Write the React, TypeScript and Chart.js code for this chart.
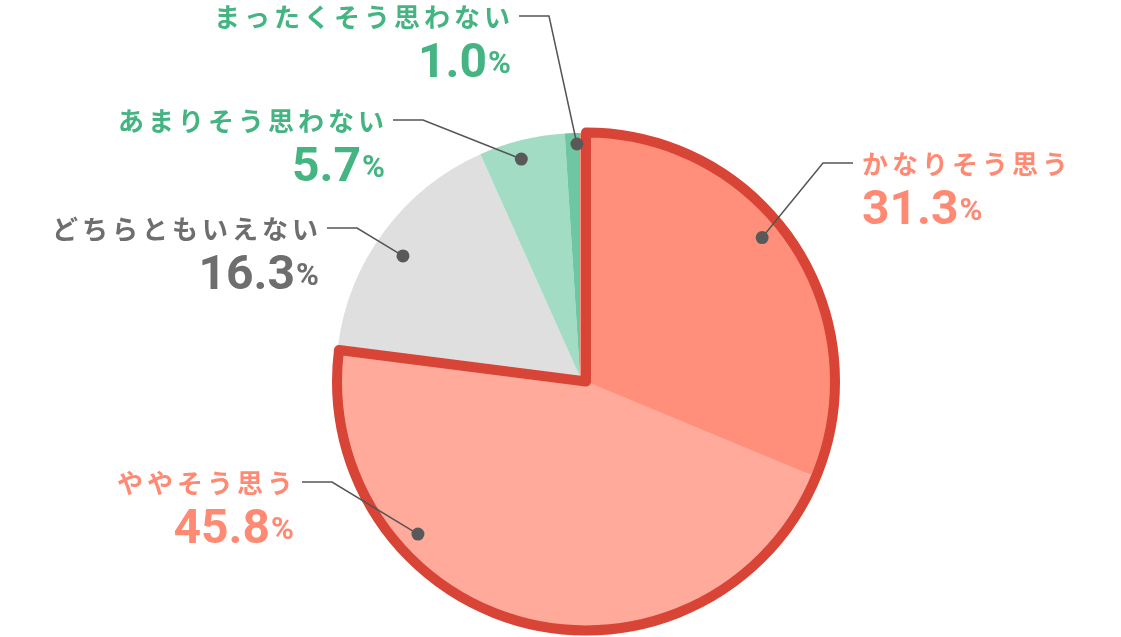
import React, { useEffect, useRef } from "react";
import { Chart, registerables } from "chart.js";

Chart.register(...registerables);

// ---- data ----
const categories = ["かなりそう思う", "ややそう思う", "どちらともいえない", "あまりそう思わない", "まったくそう思わない"];
const values = [31.3, 45.8, 16.3, 5.7, 1.0];
const valueLabels = ["31.3", "45.8", "16.3", "5.7", "1.0"];

// ---- styles ----
const sliceColors = ["#ff8f7b", "#ffaa9b", "#dfdfdf", "#a3dcc5", "#6ec7a2"];
const textColors = ["#ff8a74", "#ff8a74", "#6e6e6e", "#43b482", "#43b482"];
const outlineColor = "#d84436";
const outlinedSlices = [0, 1];

// ---- label layout (annotation placement) ----
// dot: [fraction along slice angle, fraction of radius]
const dotPlacement: [number, number][] = [
  [0.467, 0.94],
  [0.688, 0.925],
  [0.462, 0.879],
  [0.44, 0.925],
  [0.79, 0.955],
];
// elbow point of leader line and side of label
const elbowPoints: [number, number][] = [
  [823, 163],
  [332, 482],
  [357, 228],
  [423, 120],
  [549, 16],
];
const labelSide: ("left" | "right")[] = ["right", "left", "left", "left", "left"];

const labelPlugin = {
  id: "outlineAndLabels",
  afterDatasetsDraw(chart: any) {
    const ctx: CanvasRenderingContext2D = chart.ctx;
    const arcs = chart.getDatasetMeta(0).data as any[];
    const a0 = arcs[outlinedSlices[0]];
    const a1 = arcs[outlinedSlices[outlinedSlices.length - 1]];
    const ox = a0.x + 6;
    const oy = a0.y + 4.5;
    const r2 = a0.outerRadius + 5;
    ctx.save();
    outlinedSlices.forEach((i) => {
      const a = arcs[i];
      ctx.beginPath();
      ctx.moveTo(ox, oy);
      ctx.arc(ox, oy, r2, a.startAngle, a.endAngle);
      ctx.closePath();
      ctx.fillStyle = sliceColors[i];
      ctx.fill();
    });
    ctx.beginPath();
    ctx.moveTo(ox, oy);
    ctx.arc(ox, oy, r2, a0.startAngle, a1.endAngle);
    ctx.closePath();
    ctx.lineWidth = 10;
    ctx.lineJoin = "round";
    ctx.strokeStyle = outlineColor;
    ctx.stroke();
    ctx.restore();
  },
  afterDraw(chart: any) {
    const ctx: CanvasRenderingContext2D = chart.ctx;
    const arcs = chart.getDatasetMeta(0).data as any[];
    arcs.forEach((a: any, i: number) => {
      const [fa, fr] = dotPlacement[i];
      const ang = a.startAngle + (a.endAngle - a.startAngle) * fa;
      const r = a.outerRadius * fr;
      const dx = a.x + Math.cos(ang) * r;
      const dy = a.y + Math.sin(ang) * r;
      const [ex, ey] = elbowPoints[i];
      const side = labelSide[i];
      const endX = side === "right" ? ex + 30 : ex - 30;
      ctx.save();
      ctx.strokeStyle = "#555555";
      ctx.lineWidth = 1.5;
      ctx.beginPath();
      ctx.moveTo(dx, dy);
      ctx.lineTo(ex, ey);
      ctx.lineTo(endX, ey);
      ctx.stroke();
      ctx.fillStyle = "#595959";
      ctx.beginPath();
      ctx.arc(dx, dy, 6.5, 0, Math.PI * 2);
      ctx.fill();

      // category text
      const tx = side === "right" ? endX + 9 : endX - 9;
      ctx.fillStyle = textColors[i];
      ctx.font = 'bold 26px "Noto Sans CJK JP"';
      (ctx as any).letterSpacing = "4px";
      ctx.textBaseline = "middle";
      ctx.textAlign = "left";
      const w = ctx.measureText(categories[i]).width;
      const startX = side === "right" ? tx : tx - (w - 4);
      ctx.fillText(categories[i], startX, ey + 1);

      // number
      (ctx as any).letterSpacing = "0px";
      ctx.textBaseline = "alphabetic";
      ctx.font = 'bold 48px Roboto';
      const numW = ctx.measureText(valueLabels[i]).width;
      ctx.font = 'bold 31px Roboto';
      const pctW = ctx.measureText("%").width;
      const gap = 1;
      const total = numW + gap + pctW;
      const nx = side === "right" ? tx : tx + 1 - total;
      const base = ey + 61;
      ctx.font = 'bold 48px Roboto';
      ctx.fillText(valueLabels[i], nx, base);
      ctx.font = 'bold 31px Roboto';
      ctx.fillText("%", nx + numW + gap, base - 4);
      ctx.restore();
    });
  },
};

export default function App() {
  const ref = useRef<HTMLCanvasElement>(null);
  useEffect(() => {
    if (!ref.current) return;
    const chart = new Chart(ref.current, {
      type: "pie",
      data: {
        labels: categories,
        datasets: [
          {
            data: values,
            backgroundColor: sliceColors,
            borderWidth: 0,
          },
        ],
      },
      options: {
        responsive: false,
        animation: false,
        layout: { padding: { left: 336, right: 297, top: 133, bottom: 16 } },
        plugins: {
          legend: { display: false },
          tooltip: { enabled: false },
        },
        events: [],
      },
      plugins: [labelPlugin],
    });
    return () => chart.destroy();
  }, []);
  return (
    <div style={{ position: "absolute", left: 0, top: 0, width: 1121, height: 637, background: "#fff" }}>
      <canvas ref={ref} width={1121} height={637} />
    </div>
  );
}
